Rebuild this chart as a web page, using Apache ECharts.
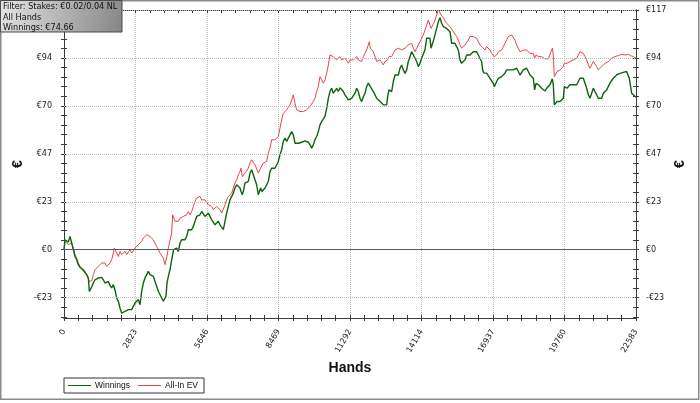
<!DOCTYPE html>
<html>
<head>
<meta charset="utf-8">
<title>Winnings graph</title>
<script src="https://cdn.jsdelivr.net/npm/echarts@6/dist/echarts.min.js"></script>
<style>
  html, body { margin: 0; padding: 0; background: #fff; }
  #chart { width: 700px; height: 403px; }
</style>
</head>
<body>
<div id="chart"></div>
<script>
// hands played (x) for each sample
const hands = [
  0, 39, 105, 171, 237, 303, 369, 434, 500, 566, 632, 697, 763, 829, 895, 961, 1000, 1053, 1105, 1158,
  1224, 1290, 1355, 1421, 1487, 1553, 1619, 1684, 1750, 1816, 1882, 1948, 1987, 2027, 2079, 2145, 2211, 2277, 2342, 2408,
  2474, 2540, 2606, 2671, 2737, 2803, 2869, 2935, 3000, 3066, 3132, 3198, 3264, 3329, 3395, 3461, 3527, 3593, 3658, 3725,
  3790, 3856, 3922, 3988, 4027, 4067, 4119, 4185, 4251, 4290, 4330, 4383, 4448, 4514, 4580, 4646, 4712, 4777, 4843, 4909,
  4975, 5041, 5106, 5172, 5238, 5304, 5370, 5435, 5501, 5567, 5633, 5699, 5764, 5830, 5896, 5962, 6028, 6093, 6159, 6225,
  6291, 6357, 6422, 6488, 6554, 6620, 6686, 6751, 6817, 6883, 6949, 6988, 7041, 7094, 7146, 7212, 7278, 7344, 7409, 7475,
  7540, 7606, 7672, 7711, 7764, 7817, 7869, 7935, 8001, 8067, 8133, 8198, 8264, 8330, 8396, 8462, 8527, 8593, 8659, 8725,
  8791, 8856, 8922, 8988, 9054, 9120, 9185, 9251, 9317, 9383, 9449, 9514, 9580, 9646, 9712, 9778, 9843, 9909, 9975, 10041,
  10107, 10172, 10238, 10304, 10370, 10436, 10501, 10567, 10633, 10699, 10765, 10830, 10896, 10962, 11028, 11093, 11160, 11226, 11291, 11357,
  11423, 11489, 11555, 11620, 11686, 11752, 11818, 11884, 11949, 12015, 12055, 12094, 12147, 12213, 12278, 12344, 12410, 12476, 12542, 12607,
  12673, 12739, 12778, 12831, 12897, 12936, 13002, 13068, 13134, 13200, 13265, 13331, 13397, 13463, 13529, 13594, 13660, 13726, 13792, 13858,
  13923, 13989, 14055, 14121, 14187, 14252, 14318, 14384, 14450, 14489, 14542, 14594, 14647, 14713, 14779, 14844, 14910, 14976, 15041, 15107,
  15173, 15239, 15305, 15370, 15436, 15502, 15568, 15634, 15699, 15765, 15831, 15897, 15963, 16028, 16094, 16160, 16226, 16292, 16357, 16423,
  16489, 16528, 16581, 16621, 16686, 16752, 16818, 16884, 16950, 16989, 17042, 17081, 17147, 17213, 17279, 17344, 17410, 17476, 17542, 17608,
  17673, 17739, 17805, 17871, 17937, 18002, 18068, 18134, 18200, 18266, 18331, 18397, 18463, 18529, 18581, 18634, 18727, 18792, 18858, 18924,
  18990, 19056, 19121, 19187, 19227, 19279, 19319, 19358, 19411, 19464, 19516, 19582, 19648, 19714, 19753, 19806, 19858, 19911, 19977, 20043,
  20108, 20174, 20240, 20306, 20372, 20437, 20503, 20569, 20635, 20701, 20766, 20832, 20898, 20964, 21030, 21095, 21161, 21227, 21293, 21359,
  21424, 21490, 21556, 21622, 21688, 21753, 21819, 21885, 21951, 22017, 22082, 22148, 22214, 22280, 22319, 22359, 22411, 22477, 22583
];

// cumulative winnings, euros
const winnings = [
  0, 4.9, 4.1, 3.7, 6.5, 7.0, 0, -3.3, -4.9, -7.3, -8.6, -8.1, -9.8, -10.6, -12.2, -13.8, -20.4, -19.5, -17.9, -16.3,
  -14.7, -15.5, -13.8, -13.0, -13.5, -14.7, -16.3, -17.1, -15.5, -17.4, -18.7, -17.1, -16.3, -20.4, -23.6, -25.2, -28.5, -31.0, -31.8, -30.1,
  -31.0, -29.3, -28.5, -29.3, -27.7, -26.1, -26.9, -24.4, -26.9, -20.4, -16.3, -13.8, -12.2, -10.6, -12.2, -11.4, -13.0, -15.5, -17.9, -20.3,
  -21.2, -23.6, -25.2, -24.4, -22.8, -16.3, -13.0, -9.8, -4.9, -2.4, 0, -0.8, 0.8, -0.8, 3.3, 4.9, 5.7, 4.9, 6.5, 9.8,
  9.0, 9.8, 11.4, 13.9, 16.3, 15.5, 17.1, 18.7, 17.9, 16.3, 17.1, 17.9, 16.3, 14.7, 13.9, 12.2, 13.0, 13.9, 12.2, 11.4,
  9.8, 13.9, 17.9, 21.2, 24.4, 26.1, 27.7, 30.2, 31.8, 32.6, 30.2, 28.5, 26.9, 29.3, 32.6, 31.8, 33.4, 37.5, 39.1, 36.7,
  34.2, 31.8, 26.9, 26.1, 30.2, 28.5, 29.3, 30.2, 31.0, 33.4, 38.3, 39.9, 39.1, 39.9, 40.7, 43.2, 46.4, 48.9, 53.0, 54.6,
  53.0, 54.6, 56.2, 57.8, 56.2, 52.1, 51.3, 52.1, 51.6, 52.6, 52.1, 53.3, 52.6, 52.6, 51.3, 49.7, 51.3, 53.8, 55.4, 57.8,
  61.1, 62.7, 61.9, 65.2, 69.2, 74.1, 77.4, 79.0, 76.6, 77.4, 79.0, 77.4, 79.3, 79.0, 77.4, 75.8, 75.8, 73.3, 72.5, 74.1,
  74.9, 76.6, 79.0, 77.4, 74.1, 72.5, 74.9, 76.6, 79.8, 81.5, 80.6, 79.8, 79.8, 77.4, 75.8, 74.1, 73.3, 72.5, 71.7, 70.9,
  71.7, 70.9, 74.9, 78.2, 79.0, 77.4, 82.3, 85.5, 86.3, 85.5, 88.8, 90.4, 88.0, 86.3, 88.0, 92.1, 94.5, 96.9, 95.3, 93.7,
  92.1, 89.6, 91.3, 93.7, 94.5, 97.8, 103.5, 104.3, 103.5, 98.6, 98.6, 102.6, 103.5, 108.3, 111.6, 113.5, 110.8, 109.2, 110.0, 108.3,
  109.2, 106.7, 101.0, 100.2, 101.0, 99.4, 97.7, 92.9, 91.2, 92.0, 92.9, 95.3, 96.1, 95.3, 96.1, 96.9, 96.1, 96.9, 95.3, 93.7,
  92.0, 88.0, 86.4, 85.5, 86.4, 85.5, 83.9, 83.1, 81.4, 79.8, 80.6, 82.3, 83.9, 83.1, 84.7, 85.5, 86.4, 88.0, 87.2, 88.0,
  87.2, 88.0, 87.2, 88.8, 87.2, 85.5, 86.4, 88.0, 87.2, 88.8, 87.2, 85.5, 84.7, 83.9, 78.2, 81.4, 80.7, 79.8, 79.0, 78.2,
  77.7, 79.0, 79.8, 80.7, 81.5, 83.6, 80.7, 70.9, 71.7, 72.5, 73.3, 72.5, 73.3, 74.1, 79.8, 80.7, 79.0, 79.8, 80.7, 79.8,
  80.7, 81.5, 80.7, 82.3, 83.9, 84.7, 83.9, 81.5, 79.0, 75.8, 74.1, 75.0, 79.0, 78.2, 75.8, 74.1, 75.0, 74.1, 76.6, 77.4,
  78.2, 79.0, 81.5, 82.3, 83.9, 84.7, 85.5, 85.5, 86.3, 85.9, 86.8, 87.5, 87.2, 87.5, 83.9, 80.7, 76.6, 75.8, 74.66
];

// all-in adjusted expectation, euros
const allInEV = [
  0, 4.1, 3.3, 2.5, 2.5, 3.3, 0.8, -2.4, -4.1, -6.5, -8.1, -9.0, -10.6, -11.4, -12.2, -13.0, -15.5, -16.3, -15.1, -12.2,
  -9.8, -9.0, -8.1, -7.3, -6.5, -5.7, -6.5, -8.1, -9.0, -6.5, -4.9, -1.6, 0.8, 0, -1.6, -3.3, -0.8, -2.4, -1.6, -0.8,
  -2.4, -1.6, 0, -1.6, -0.8, 0.8, 1.6, 2.5, 3.3, 4.1, 5.7, 6.5, 7.3, 8.1, 6.5, 5.7, 4.9, 4.1, 1.6, 0,
  -1.6, -2.4, -4.1, -7.3, -8.1, -3.2, 0.8, 1.6, 8.2, 17.1, 16.3, 13.9, 14.7, 13.9, 15.5, 14.7, 16.3, 15.5, 17.1, 18.7,
  17.1, 18.7, 21.2, 23.6, 25.3, 24.4, 26.1, 24.4, 25.3, 24.4, 23.6, 22.0, 22.8, 21.2, 19.6, 20.4, 21.2, 20.4, 19.6, 17.9,
  17.1, 22.0, 24.4, 26.1, 26.9, 27.7, 30.2, 32.6, 34.2, 36.7, 38.3, 39.9, 35.8, 35.0, 37.5, 38.3, 39.9, 42.4, 44.0, 43.2,
  41.6, 40.7, 37.5, 38.3, 39.9, 41.2, 42.4, 41.6, 43.2, 47.3, 49.7, 53.8, 54.6, 53.8, 54.6, 55.4, 59.5, 63.5, 66.8, 67.6,
  68.4, 69.2, 70.9, 73.3, 75.8, 71.7, 68.4, 68.4, 67.6, 68.4, 67.6, 67.6, 68.4, 69.2, 70.1, 70.9, 72.5, 74.1, 77.4, 79.8,
  84.7, 83.1, 81.5, 83.1, 86.4, 90.4, 95.3, 94.5, 94.5, 95.3, 92.9, 93.7, 94.5, 92.9, 92.1, 93.7, 92.9, 91.3, 92.9, 93.7,
  92.9, 93.7, 94.5, 92.9, 93.7, 92.1, 94.5, 95.3, 97.8, 100.2, 101.8, 98.6, 97.8, 96.9, 94.5, 92.1, 91.3, 92.9, 92.1, 90.4,
  92.1, 91.3, 92.9, 94.5, 95.3, 94.5, 96.1, 97.8, 96.9, 98.6, 99.4, 97.8, 96.9, 98.6, 99.4, 100.2, 99.4, 101.0, 98.6, 96.9,
  98.6, 100.2, 101.8, 103.5, 105.1, 105.9, 110.0, 112.4, 111.6, 108.3, 107.5, 110.8, 112.4, 114.9, 117.3, 117.3, 114.5, 113.5, 112.0, 110.8,
  110.0, 109.2, 108.3, 106.7, 105.9, 104.3, 102.6, 100.2, 98.6, 99.4, 100.2, 101.0, 102.6, 104.3, 105.1, 104.3, 105.1, 103.5, 101.8, 100.2,
  99.4, 99.0, 98.6, 97.7, 99.4, 98.6, 97.7, 96.1, 95.3, 94.5, 94.8, 95.3, 96.9, 96.1, 97.7, 99.4, 101.0, 102.6, 104.3, 105.1,
  105.1, 104.3, 102.6, 100.2, 98.6, 96.9, 96.1, 97.7, 98.6, 97.7, 96.9, 96.1, 96.9, 96.1, 93.7, 95.3, 94.5, 93.7, 94.5, 93.7,
  93.4, 93.7, 93.4, 93.7, 96.9, 98.6, 95.3, 84.7, 85.5, 87.2, 87.2, 88.0, 88.8, 89.6, 91.2, 92.1, 91.2, 92.1, 92.1, 92.9,
  92.9, 92.9, 93.7, 95.3, 96.9, 97.7, 96.1, 94.5, 92.9, 90.4, 88.8, 89.6, 92.1, 91.2, 89.6, 88.0, 88.8, 89.6, 90.4, 91.2,
  92.1, 92.1, 92.9, 93.7, 93.4, 94.5, 95.3, 95.0, 95.3, 95.6, 95.0, 95.3, 95.0, 95.6, 95.3, 95.0, 95.3, 94.5, 93.7
];

// axis ticks and labels
const xTicks = [0, 2823, 5646, 8469, 11292, 14114, 16937, 19760, 22583];
const yTicks = [-23.46, 0, 23.46, 46.92, 70.38, 93.84, 117.3];
const yTickLabels = ['-€23', '€0', '€23', '€47', '€70', '€94', '€117'];
const seriesNames = ['Winnings', 'All-In EV'];
const filterLines = ['Filter: Stakes: €0.02/0.04 NL', 'All Hands', 'Winnings: €74.66'];

const yMin = -33.4;
const yMax = yTicks[yTicks.length - 1];
const xMax = xTicks[xTicks.length - 1];

// minor tick positions (5 per major step), counted down from the top tick
const yStep = yTicks[1] - yTicks[0];
const yMinor = [];
for (let v = yMax; v >= yMin; v -= yStep / 5) yMinor.push(Math.round(v * 1000) / 1000);

const nearest = (arr, v) => arr.reduce((b, a, i) => Math.abs(a - v) < Math.abs(arr[b] - v) ? i : b, 0);

const axisColor = '#3a3a3a';
const labelFont = { fontFamily: 'DejaVu Sans', fontSize: 8, color: '#222' };

const xBase = (extra) => Object.assign({
  type: 'value', min: 0, max: xMax, interval: xMax / 8,
  axisLine: { show: true, onZero: false, lineStyle: { color: axisColor, width: 1 } },
  axisTick: { show: true, inside: false, length: 3, lineStyle: { color: axisColor } },
  minorTick: { show: true, splitNumber: 5, length: 3, lineStyle: { color: axisColor } },
  axisLabel: { show: false },
  splitLine: { show: false }
}, extra);

const yBase = (extra) => Object.assign({
  type: 'value', min: yMin, max: yMax,
  axisLine: { show: true, onZero: false, lineStyle: { color: axisColor, width: 1 } },
  axisTick: { show: true, inside: false, length: 3, customValues: yMinor, lineStyle: { color: axisColor } },
  axisLabel: { show: false },
  splitLine: { show: false }
}, extra);

const yLabel = (margin) => Object.assign({
  show: true, margin: margin, customValues: yTicks,
  formatter: v => yTickLabels[nearest(yTicks, v)]
}, labelFont);

const axisName = { fontFamily: 'Liberation Sans', fontSize: 14, fontWeight: 'bold', color: '#111' };

// rotated euro sign beside each value axis
const euroName = (cx) => ({
  type: 'text', silent: true, z: 50, x: cx, y: 164, rotation: Math.PI / 2,
  style: { text: '€', font: "bold 14px 'Liberation Sans'", fill: '#111', align: 'center', verticalAlign: 'middle' }
});

const chart = echarts.init(document.getElementById('chart'));
chart.setOption({
  animation: false,
  backgroundColor: '#fff',
  grid: { left: 64, right: 64, top: 10, bottom: 85, containLabel: false },
  legend: {
    data: seriesNames,
    left: 64, top: 378,
    padding: [3, 6, 3, 4],
    borderColor: '#333', borderWidth: 1,
    backgroundColor: '#fff',
    icon: 'rect', itemWidth: 23, itemHeight: 1, itemGap: 8,
    textStyle: { fontFamily: 'Liberation Sans', fontSize: 8.5, color: '#111', padding: [0, 0, 0, -1] }
  },
  xAxis: [
    xBase({
      position: 'bottom',
      axisLabel: Object.assign({
        show: true, rotate: 60, margin: 12,
        formatter: v => String(xTicks[nearest(xTicks, v)])
      }, labelFont),
      splitLine: { show: true, lineStyle: { color: '#bdbdbd', type: 'dotted', width: 1 } },
      name: 'Hands', nameLocation: 'middle', nameGap: 43, nameTextStyle: axisName
    }),
    xBase({ position: 'bottom', axisTick: { show: true, inside: true, length: 3, lineStyle: { color: axisColor } },
      minorTick: { show: true, splitNumber: 5, length: 3, lineStyle: { color: axisColor } } }),
    xBase({ position: 'top', axisTick: { show: true, inside: true, length: 3, lineStyle: { color: axisColor } },
      minorTick: { show: true, splitNumber: 5, length: 3, lineStyle: { color: axisColor } } })
  ],
  yAxis: [
    yBase({ position: 'left', axisLabel: yLabel(12) }),
    yBase({ position: 'left', axisTick: { show: true, inside: true, length: 3, customValues: yMinor, lineStyle: { color: axisColor } } }),
    yBase({ position: 'right', axisLabel: yLabel(10) }),
    yBase({ position: 'right', axisTick: { show: true, inside: true, length: 3, customValues: yMinor, lineStyle: { color: axisColor } } })
  ],
  series: [
    {
      // horizontal grid lines and the zero line
      name: 'grid', type: 'line', data: [], z: 1, silent: true,
      markLine: {
        silent: true, symbol: ['none', 'none'], label: { show: false },
        data: yTicks.map(v => ({
          yAxis: v,
          lineStyle: v === 0 ? { type: 'solid', color: '#5a5a5a', width: 1 } : { type: 'dotted', color: '#bdbdbd', width: 1 }
        }))
      }
    },
    {
      name: seriesNames[1], type: 'line', showSymbol: false, z: 3,
      data: hands.map((h, i) => [h, allInEV[i]]),
      itemStyle: { color: '#e2474b' },
      lineStyle: { color: '#e2474b', width: 1 }
    },
    {
      name: seriesNames[0], type: 'line', showSymbol: false, z: 4,
      data: hands.map((h, i) => [h, winnings[i]]),
      itemStyle: { color: '#0c650c' },
      lineStyle: { color: '#0c650c', width: 1.4 }
    }
  ],
  graphic: [
    {
      type: 'rect', silent: true, z: 100,
      shape: { x: 0.75, y: 0.75, width: 698, height: 398.5 },
      style: { fill: 'none', stroke: '#8a8a8a', lineWidth: 1.5 }
    },
    {
      type: 'rect', silent: true, z: 101,
      shape: { x: 0.5, y: 0.5, width: 121.5, height: 31.5 },
      style: {
        fill: new echarts.graphic.LinearGradient(0, 0, 1, 1, [
          { offset: 0, color: '#e4e4e4' },
          { offset: 1, color: '#858585' }
        ]),
        stroke: '#4a4a4a', lineWidth: 1
      }
    },
    {
      type: 'text', silent: true, z: 102, x: 3, y: 1.5,
      style: {
        text: filterLines.join('\n'),
        font: "9px 'DejaVu Sans Condensed', 'DejaVu Sans'",
        lineHeight: 10.5, fill: '#111'
      }
    },
    euroName(18),
    euroName(680)
  ]
});
</script>
</body>
</html>
